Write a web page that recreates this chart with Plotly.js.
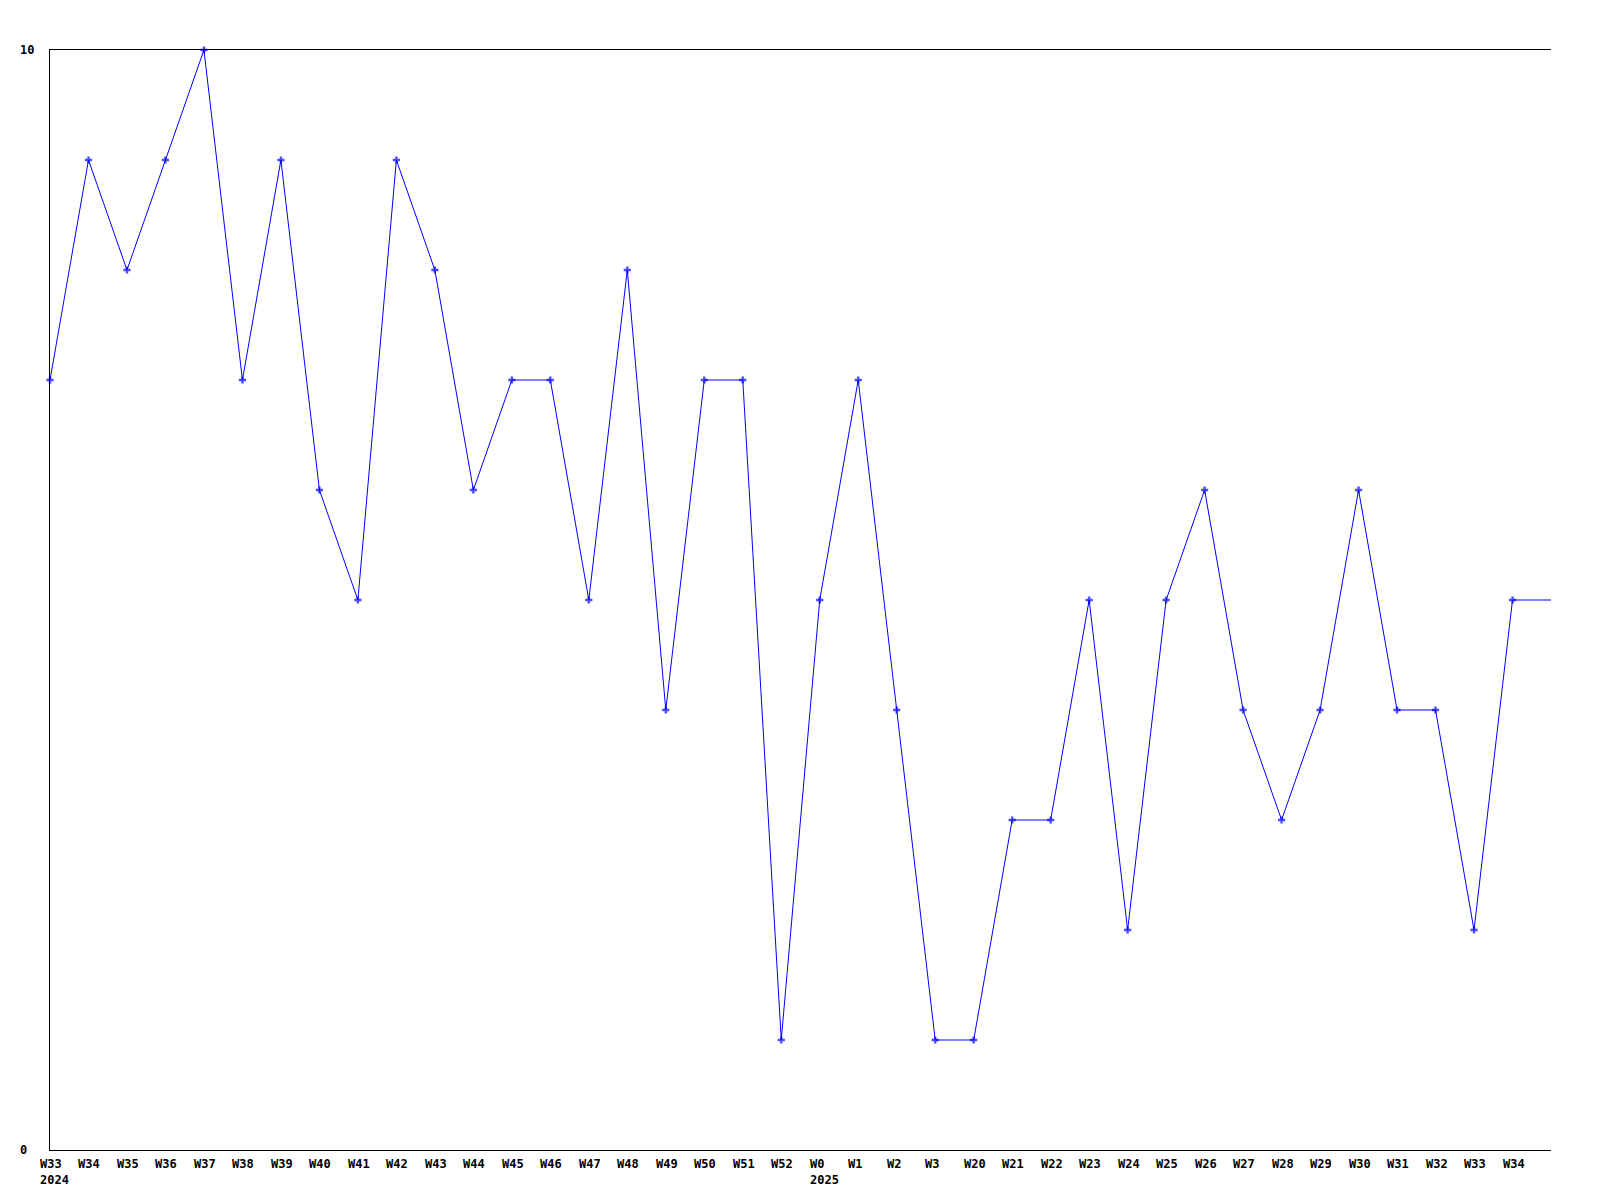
<!DOCTYPE html>
<html>
<head>
<meta charset="utf-8">
<script src="https://cdn.plot.ly/plotly-3.0.1.min.js"></script>
<style>html,body{margin:0;padding:0;background:#fff;}</style>
</head>
<body>
<div id="chart" style="width:1600px;height:1200px;"></div>
<script>
// Week labels (last point has no drawn label; line continues to the edge)
var weeks = ['W33','W34','W35','W36','W37','W38','W39','W40','W41','W42','W43','W44','W45','W46','W47','W48','W49','W50','W51','W52',
             'W0','W1','W2','W3','W20','W21','W22','W23','W24','W25','W26','W27','W28','W29','W30','W31','W32','W33','W34','W35'];
var years = ['2024','2024','2024','2024','2024','2024','2024','2024','2024','2024','2024','2024','2024','2024','2024','2024','2024','2024','2024','2024',
             '2025','2025','2025','2025','2025','2025','2025','2025','2025','2025','2025','2025','2025','2025','2025','2025','2025','2025','2025','2025'];
var values = [7,9,8,9,10,7,9,6,5,9,8,6,7,7,5,8,4,7,7,1,
              5,7,4,1,1,3,3,5,2,5,6,4,3,4,6,4,4,2,5,5];
var showLabel = [1,1,1,1,1,1,1,1,1,1,1,1,1,1,1,1,1,1,1,1,
                 1,1,1,1,1,1,1,1,1,1,1,1,1,1,1,1,1,1,1,0];
var yTicks = [0, 10];

var cats = weeks.map(function(w, i){ return years[i] + '-' + w; });
var markerSizes = showLabel.map(function(s){ return s ? 6 : 0; });

var FONT = {family: '"DejaVu Sans Mono", "Liberation Mono", monospace', size: 12, color: '#000'};

var annotations = [];
cats.forEach(function(c, i){
  if (!showLabel[i]) return;
  var txt = weeks[i];
  if (i === 0 || years[i] !== years[i-1]) txt += '<br>' + years[i];
  annotations.push({
    x: c, xref: 'x', y: 0, yref: 'paper', yanchor: 'top', xanchor: 'left',
    xshift: -12, yshift: -5, align: 'left', showarrow: false,
    text: '<b>' + txt + '</b>', font: FONT
  });
});
yTicks.forEach(function(v){
  annotations.push({
    x: 0, xref: 'paper', xanchor: 'left', xshift: -32,
    y: v, yref: 'y', yanchor: 'middle', showarrow: false, align: 'left',
    text: '<b>' + v + '</b>', font: FONT
  });
});

var trace = {
  x: cats, y: values, type: 'scatter', mode: 'lines+markers',
  line: {color: '#0000ff', width: 1},
  marker: {color: '#0000ff', symbol: 'cross', size: markerSizes, line: {width: 0}},
  cliponaxis: false, hoverinfo: 'x+y'
};

var layout = {
  width: 1600, height: 1200,
  margin: {l: 50, r: 49, t: 50, b: 50},
  paper_bgcolor: '#fff', plot_bgcolor: '#fff',
  showlegend: false,
  font: FONT,
  xaxis: {
    type: 'category', range: [0, cats.length - 1],
    showgrid: false, zeroline: false, showticklabels: false, ticks: '',
    showline: true, linecolor: '#000', linewidth: 1, mirror: true
  },
  yaxis: {
    range: [0, 10], showgrid: false, zeroline: false, showticklabels: false, ticks: '',
    showline: true, linecolor: '#000', linewidth: 1, mirror: false
  },
  annotations: annotations
};

Plotly.newPlot('chart', [trace], layout, {displayModeBar: false, staticPlot: true});
</script>
</body>
</html>
